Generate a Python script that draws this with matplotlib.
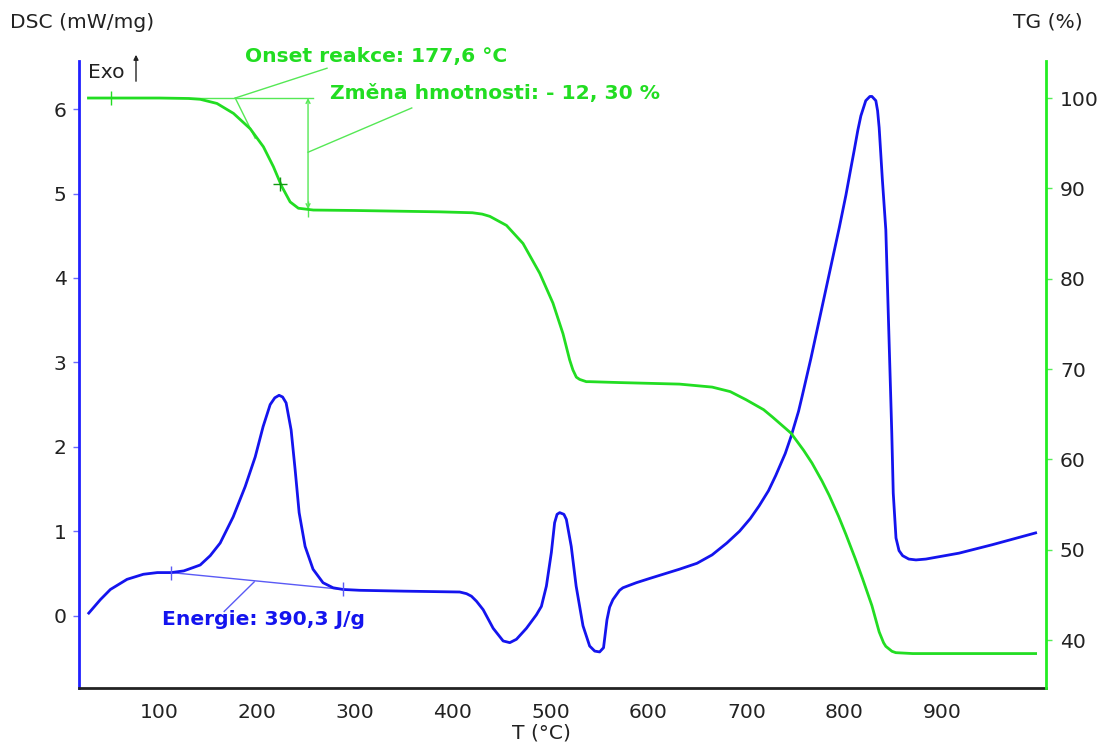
import matplotlib
matplotlib.use("Agg")
from matplotlib import pyplot as plt

# DSC krivka (modra), T v °C, DSC v mW/mg
dsc_t = [27.9, 39.8, 50, 67, 83.7, 98, 112.2, 125, 134.7, 141.8, 152, 162.2, 175.5, 187.8,
         198, 206.1, 213.3, 218, 222.4, 226, 229.6, 234.7, 238.8, 242.9, 249, 257.1, 267.3,
         277.6, 287.8, 305, 350, 407, 414, 419, 424.2, 431, 441.2, 451.4, 458.2, 465, 475.2, 485.4,
         490.5, 495.6, 500.7, 504, 506.5, 509.2, 513.5, 516, 521, 526, 533, 539.8, 545, 550,
         554, 557.5, 560.2, 563.6, 570.4, 573.8, 580.6, 587.5, 601, 631.6, 649.5, 665, 680,
         693, 704, 713, 722.6, 730, 739.7, 745.6, 753.3, 757, 766, 795, 801.7, 807.1,
         810, 813.9, 817, 822, 826.2, 828.3, 832.3, 834.1, 835.7, 839, 842.5, 847.6, 848.6,
         850.1, 852.9, 856, 859.7, 866, 873.3, 883.4, 917.3, 951.3, 995.6]
dsc_v = [0.03, 0.19, 0.31, 0.43, 0.49, 0.51, 0.51, 0.53, 0.57, 0.60, 0.71, 0.86, 1.17, 1.53,
         1.88, 2.24, 2.50, 2.58, 2.61, 2.59, 2.52, 2.20, 1.73, 1.22, 0.82, 0.55, 0.39,
         0.33, 0.31, 0.30, 0.29, 0.28, 0.26, 0.23, 0.17, 0.07, -0.15, -0.30, -0.32, -0.28, -0.15, 0.01,
         0.11, 0.35, 0.75, 1.10, 1.20, 1.22, 1.20, 1.14, 0.82, 0.35, -0.12, -0.36, -0.42, -0.43,
         -0.38, -0.05, 0.10, 0.19, 0.30, 0.33, 0.36, 0.39, 0.44, 0.55, 0.62, 0.72, 0.86,
         1.00, 1.15, 1.30, 1.48, 1.66, 1.92, 2.12, 2.42, 2.60, 3.05, 4.60, 4.98, 5.32,
         5.50, 5.75, 5.92, 6.10, 6.15, 6.15, 6.10, 5.98, 5.78, 5.16, 4.57, 2.56, 2.16,
         1.45, 0.92, 0.77, 0.71, 0.67, 0.66, 0.67, 0.74, 0.84, 0.98]

# TG krivka (zelena), T v °C, TG v %
tg_t = [27.6, 50.7, 100, 130, 141.8, 158.9, 175.8, 192.9, 206.4, 216.6, 225.2, 233.7, 242.1,
        257.4, 300, 386.7, 420, 430, 437.8, 454.8, 471.7, 488.8, 502.3, 512.6, 519.4, 522.7,
        526.2, 529.6, 536.4, 539.8, 570.4, 631.6, 665, 683.5, 699.7, 717.6, 726.5, 745.6, 758.5,
        767, 777.3, 784.7, 794.2, 801.7, 811.3, 818.7, 828.3, 835.7, 840.2, 842.5, 848.8, 852.7,
        870, 995.6]
tg_v = [100.0, 100.0, 100.0, 99.95, 99.86, 99.4, 98.3, 96.6, 94.6, 92.4, 90.2, 88.5, 87.8,
        87.6, 87.55, 87.4, 87.3, 87.15, 86.9, 85.9, 83.9, 80.6, 77.3, 73.9, 71.0, 69.9,
        69.1, 68.85, 68.6, 68.6, 68.5, 68.33, 68.0, 67.5, 66.6, 65.5, 64.7, 62.9, 61.0,
        59.6, 57.6, 56.0, 53.7, 51.7, 49.0, 46.8, 43.8, 40.9, 39.7, 39.3, 38.75, 38.6,
        38.5, 38.5]

# vyhodnoceni
onset_t = 177.6
mass_t = 252
mass_top, mass_bottom = 100.0, 87.7
energy_pts_t = [112.2, 287.8]
energy_pts_v = [0.51, 0.31]
tg_marks_t = [50.7, 223.5]
tg_marks_v = [100.0, 90.5]

x_ticks = [100, 200, 300, 400, 500, 600, 700, 800, 900]
dsc_ticks = [0, 1, 2, 3, 4, 5, 6]
tg_ticks = [40, 50, 60, 70, 80, 90, 100]

blue = "#1414ee"
green = "#22dd22"
light_green = "#55e855"
light_blue = "#5a5af5"
fs = 14.6

plt.rcParams["font.family"] = "DejaVu Sans"
fig = plt.figure(figsize=(10.97, 7.42), dpi=100)
ax = fig.add_axes([0.072, 0.0728, 0.8815, 0.845])
ax2 = ax.twinx()

ax.plot(dsc_t, dsc_v, color=blue, lw=2, zorder=3)
ax2.plot(tg_t, tg_v, color=green, lw=2, zorder=3)

ax.set_xlim(17.9, 1006.2)
ax.set_ylim(-0.857, 6.57)
ax2.set_ylim(34.69, 104.1)

ax.set_xticks(x_ticks)
ax.set_yticks(dsc_ticks)
ax2.set_yticks(tg_ticks)

ax.spines["top"].set_visible(False)
ax2.spines["top"].set_visible(False)
ax2.spines["left"].set_visible(False)
ax2.spines["bottom"].set_visible(False)
ax.spines["right"].set_visible(False)
ax.spines["left"].set_color("#2020ff")
ax.spines["left"].set_linewidth(2)
ax2.spines["right"].set_color("#22ee22")
ax2.spines["right"].set_linewidth(2)
ax.spines["bottom"].set_color("#222222")
ax.spines["bottom"].set_linewidth(2)

ax.tick_params(axis="y", length=4, width=1, color="#6a6aff", pad=5, labelsize=fs, labelcolor="#222222")
ax.tick_params(axis="x", length=0, pad=11, labelsize=fs, labelcolor="#222222")
ax2.tick_params(axis="y", length=4, width=1, color="#55ee55", pad=6, labelsize=fs, labelcolor="#222222")

# energie piku
ax.plot(energy_pts_t, energy_pts_v, color=light_blue, lw=1, zorder=2)
ax.plot(energy_pts_t, energy_pts_v, ls="none", marker="|", ms=10, mew=1, color=light_blue, zorder=4)
ax.plot([197, 166.3], [0.40, 0.05], color=light_blue, lw=1)
ax.text(103, -0.04, "Energie: 390,3 J/g", color=blue, fontsize=fs, fontweight="bold",
        ha="left", va="center")

# onset a zmena hmotnosti
ax2.plot([130, 257.4], [100, 100], color=light_green, lw=1, zorder=2)
ax2.plot([onset_t, 198], [100, 95.54], color=light_green, lw=1, zorder=2)
ax2.plot([onset_t, 271.4], [100, 103.3], color=light_green, lw=1, clip_on=False)
ax2.text(187.8, 104.65, "Onset reakce: 177,6 °C", color=green, fontsize=fs, fontweight="bold",
         ha="left", va="center", clip_on=False)

ax2.annotate("", xy=(mass_t, mass_bottom), xytext=(mass_t, mass_top),
             arrowprops=dict(arrowstyle="<->", color=light_green, lw=1, mutation_scale=7,
                             shrinkA=0, shrinkB=0))
ax2.plot([mass_t], [mass_bottom], marker="|", ms=12, mew=1, color=light_green)
ax2.plot([mass_t, 358], [94.0, 98.9], color=light_green, lw=1)
ax2.text(274.5, 100.55, "Změna hmotnosti: - 12, 30 %", color=green, fontsize=fs,
         fontweight="bold", ha="left", va="center")
ax2.plot(tg_marks_t[:1], tg_marks_v[:1], marker="|", ms=10, mew=1, color=green, zorder=4)
ax2.plot(tg_marks_t[1:], tg_marks_v[1:], marker="+", ms=10, mew=1, color="#119911", zorder=4)

# popisky os
fig.text(10 / 1097, 1 - 22 / 742, "DSC (mW/mg)", ha="left", va="center", fontsize=fs, color="#222222")
fig.text(1083 / 1097, 1 - 22 / 742, "TG (%)", ha="right", va="center", fontsize=fs, color="#222222")
fig.text(541 / 1097, 1 - 733 / 742, "T (°C)", ha="center", va="center", fontsize=fs, color="#222222")
fig.text(88 / 1097, 1 - 72 / 742, "Exo", ha="left", va="center", fontsize=fs, color="#222222")
fig.add_artist(matplotlib.patches.FancyArrowPatch((136 / 1097, 1 - 84 / 742), (136 / 1097, 1 - 52 / 742),
                                                  transform=fig.transFigure, arrowstyle="-|>",
                                                  mutation_scale=7, lw=1, color="#222222"))

fig.savefig("out.png", dpi=100)
